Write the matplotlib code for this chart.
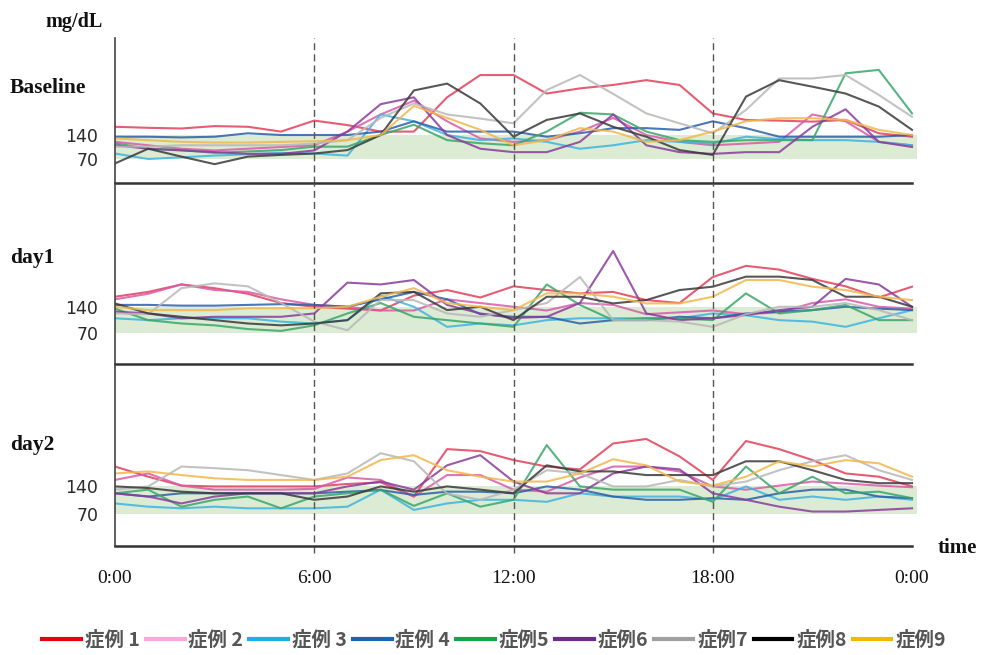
import matplotlib
matplotlib.use('Agg')
import matplotlib.pyplot as plt
from matplotlib.lines import Line2D

hours = list(range(25))
names = ['症例 1', '症例 2', '症例 3', '症例 4', '症例5', '症例6', '症例7', '症例8', '症例9']
line_colors = ['#e2405a', '#d95aa8', '#3fb4e0', '#2a5fa8', '#3aa66a', '#8a3c9c', '#b8b8b8', '#3a3a3a', '#f2b84b']
legend_colors = ['#e60012', '#f5a9d8', '#1db0e6', '#1a64b0', '#13a54a', '#6b2c91', '#a0a0a0', '#000000', '#f5b800']

# glucose values (mg/dL), one row per case, hourly from 0:00 to 24:00
baseline = [
    [164, 161, 159, 166, 164, 150, 182, 169, 150, 150, 250, 315, 315, 261, 276, 286, 300, 286, 203, 184, 182, 179, 184, 145, 135],
    [120, 110, 100, 95, 100, 105, 110, 150, 200, 240, 180, 130, 120, 125, 150, 190, 140, 120, 110, 115, 120, 200, 180, 120, 110],
    [86, 70, 75, 80, 84, 88, 86, 80, 200, 180, 140, 125, 130, 120, 100, 110, 125, 120, 115, 135, 128, 125, 125, 120, 110],
    [135, 135, 133, 135, 145, 140, 140, 140, 150, 180, 150, 150, 150, 135, 145, 160, 160, 155, 180, 160, 135, 135, 135, 135, 140],
    [116, 100, 96, 88, 92, 96, 106, 106, 140, 170, 125, 116, 110, 150, 205, 200, 150, 125, 120, 125, 125, 125, 320, 330, 203],
    [110, 100, 95, 90, 85, 85, 95, 150, 230, 250, 140, 100, 90, 90, 120, 200, 110, 90, 85, 90, 90, 164, 215, 120, 105],
    [106, 106, 110, 110, 110, 110, 115, 125, 190, 232, 200, 188, 174, 271, 315, 260, 203, 174, 145, 213, 305, 305, 315, 257, 193],
    [57, 100, 77, 55, 77, 82, 86, 96, 140, 270, 290, 232, 135, 184, 203, 164, 135, 96, 82, 252, 300, 281, 261, 223, 155],
    [130, 125, 120, 118, 118, 120, 122, 125, 140, 225, 190, 155, 110, 125, 160, 150, 120, 125, 150, 180, 189, 189, 184, 155, 140],
]
day1 = [
    [167, 180, 200, 190, 175, 150, 140, 135, 130, 170, 185, 165, 195, 185, 176, 180, 158, 150, 220, 250, 240, 215, 195, 165, 194],
    [160, 175, 200, 185, 180, 160, 145, 140, 130, 130, 160, 150, 140, 130, 150, 145, 120, 125, 130, 120, 125, 150, 160, 140, 135],
    [109, 104, 109, 109, 109, 100, 95, 104, 170, 140, 86, 95, 90, 104, 109, 109, 109, 109, 122, 117, 104, 100, 86, 109, 131],
    [145, 145, 143, 143, 145, 147, 145, 140, 160, 180, 160, 120, 113, 113, 95, 104, 104, 113, 109, 122, 127, 131, 140, 135, 131],
    [135, 104, 95, 90, 80, 75, 90, 122, 150, 113, 104, 95, 86, 200, 145, 104, 109, 109, 104, 176, 122, 131, 145, 104, 104],
    [127, 122, 109, 113, 113, 113, 122, 205, 200, 212, 145, 122, 110, 113, 150, 290, 122, 104, 109, 118, 131, 140, 215, 200, 140],
    [122, 120, 190, 203, 195, 150, 100, 77, 158, 158, 122, 113, 131, 150, 220, 104, 104, 100, 86, 120, 140, 140, 150, 131, 104],
    [149, 122, 113, 104, 95, 90, 95, 104, 176, 180, 131, 140, 104, 167, 167, 149, 158, 185, 194, 221, 221, 212, 167, 167, 140],
    [140, 131, 131, 131, 136, 136, 136, 140, 167, 190, 150, 140, 131, 176, 176, 167, 149, 149, 167, 212, 212, 194, 185, 167, 158],
]
day2 = [
    [187, 162, 140, 138, 138, 138, 138, 144, 148, 113, 230, 225, 203, 187, 180, 244, 255, 212, 154, 250, 230, 203, 170, 162, 138],
    [154, 170, 140, 130, 130, 130, 132, 160, 154, 113, 166, 166, 130, 125, 160, 187, 187, 175, 138, 130, 140, 150, 145, 140, 136],
    [96, 88, 84, 88, 84, 84, 84, 88, 130, 80, 96, 105, 105, 100, 121, 113, 113, 113, 105, 138, 105, 113, 105, 113, 105],
    [121, 113, 121, 121, 121, 121, 121, 125, 129, 117, 125, 125, 121, 138, 130, 113, 105, 105, 109, 105, 121, 130, 130, 113, 109],
    [121, 130, 88, 105, 113, 84, 113, 121, 130, 90, 121, 88, 105, 240, 138, 130, 130, 130, 100, 187, 121, 162, 121, 125, 109],
    [121, 113, 96, 113, 121, 121, 121, 138, 150, 130, 190, 215, 150, 121, 121, 170, 187, 180, 121, 105, 88, 76, 76, 80, 84],
    [130, 138, 187, 183, 178, 166, 154, 170, 220, 200, 120, 105, 130, 178, 170, 138, 138, 154, 138, 150, 178, 200, 215, 178, 154],
    [138, 134, 125, 121, 121, 121, 105, 113, 138, 125, 138, 130, 121, 190, 175, 175, 166, 166, 166, 200, 200, 178, 154, 146, 146],
    [170, 175, 166, 158, 154, 154, 154, 162, 203, 215, 178, 162, 150, 150, 170, 205, 190, 150, 140, 162, 200, 187, 203, 195, 162],
]

panels = [baseline, day1, day2]
panel_labels = ['Baseline', 'day1', 'day2']
ylims = [(0, 423), (-14, 473), (-9, 440)]
# axes boxes in pixels (top, bottom)
boxes = [(38, 183), (183, 364), (364, 546)]
label_y = [88, 258, 445]

W, H = 988, 655
fig = plt.figure(figsize=(W / 100, H / 100), dpi=100)
left, right = 115, 917

axes = []
for i, data in enumerate(panels):
    top, bot = boxes[i]
    ax = fig.add_axes([left / W, 1 - bot / H, (right - left) / W, (bot - top) / H])
    ax.set_facecolor('none')
    ax.set_xlim(0, 24.15)
    ax.set_ylim(*ylims[i])
    ax.axhspan(70, 140, color='#dcebd3', zorder=0, lw=0)
    for j, vals in enumerate(data):
        ax.plot(hours, vals, color=line_colors[j], lw=1.5, alpha=0.85,
                solid_joinstyle='round', zorder=2)
    for xv in [6, 12, 18]:
        ymin = -0.04 if i == 2 else 0
        ax.axvline(xv, ymin=ymin, ymax=1, color='#555555', lw=1, ls=(0, (5, 3)),
                   clip_on=False, zorder=3)
    for s in ['top', 'right']:
        ax.spines[s].set_visible(False)
    ax.spines['left'].set_color('#444444')
    ax.spines['left'].set_linewidth(1.2)
    ax.spines['bottom'].set_color('#333333')
    ax.spines['bottom'].set_linewidth(1.8)
    ax.spines['bottom'].set_bounds(0, 24)
    ax.spines['bottom'].set_zorder(4)
    ax.set_yticks([70, 140])
    ax.set_yticklabels(['70', '140'], family=['Liberation Sans Narrow', 'DejaVu Sans'],
                       fontsize=12.5, color='#2a2a2a')
    ax.tick_params(axis='y', length=0, pad=12)
    ax.tick_params(axis='x', length=0)
    if i < 2:
        ax.set_xticks([])
    else:
        ax.set_xticks([0, 6, 12, 18, 24])
        ax.set_xticklabels(['0:00', '6:00', '12:00', '18:00', '0:00'],
                           family='Liberation Serif', fontsize=14, color='#111111')
        ax.tick_params(axis='x', pad=17)
    fig.text(10 / W, 1 - label_y[i] / H, panel_labels[i], family='Liberation Serif',
             weight='bold', fontsize=15.5, va='center', ha='left', color='#111111')
    axes.append(ax)

fig.text(45 / W, 1 - 22 / H, 'mg/dL', family='Liberation Serif', weight='bold',
         fontsize=14.5, va='center', ha='left', color='#111111')
fig.text(938 / W, 1 - 548 / H, 'time', family='Liberation Serif', weight='bold',
         fontsize=15, va='center', ha='left', color='#111111')

handles = [Line2D([0], [0], color=c, lw=3) for c in legend_colors]
leg = fig.legend(handles, names, loc='center', bbox_to_anchor=(0.5, 1 - 640 / H), ncol=9,
                 frameon=False, prop={'family': ['Noto Sans CJK JP', 'DejaVu Sans'],
                                      'size': 14, 'weight': 'bold'},
                 handlelength=2.0, handletextpad=0.2, columnspacing=0.3)
for t in leg.get_texts():
    t.set_color('#555555')

fig.savefig('out.png', dpi=100)
